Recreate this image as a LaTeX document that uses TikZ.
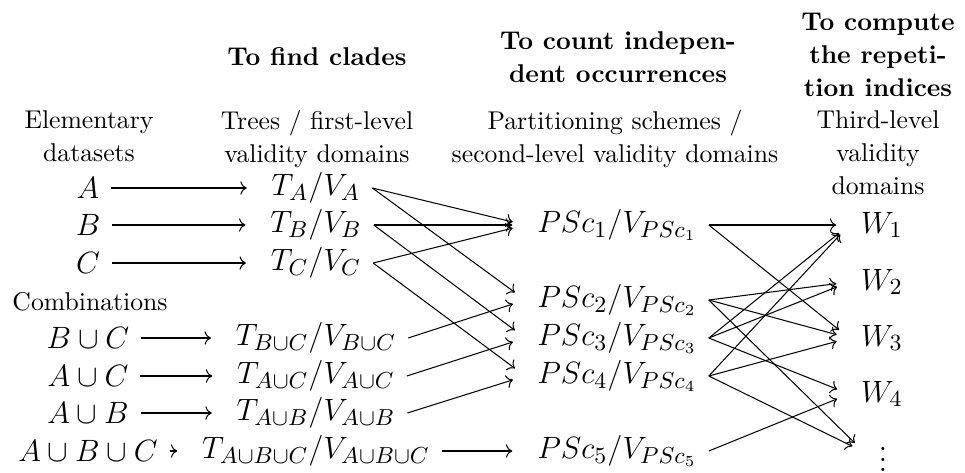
\documentclass[tikz,border=0pt]{standalone}
\usetikzlibrary{arrows.meta}
\begin{document}
\begin{tikzpicture}[x=0.3891pt,y=-0.3891pt,
  mth/.style={font=\fontsize{12.5}{15}\selectfont, inner xsep=4.5pt, inner ysep=3pt},
  lbl/.style={font=\fontsize{10}{12.8}\selectfont, align=center, inner sep=0pt},
  hdr/.style={font=\fontsize{10}{12.8}\selectfont\bfseries, align=center, inner sep=0pt},
  arr/.style={-{Computer Modern Rightarrow}, shorten >=5pt, line width=0.4pt}]
\useasboundingbox (0,0) rectangle (965,472);

% headers
\node[hdr] (h2) at (317,57) {To find clades};
\node[hdr] (h3) at (618,57) {To count indepen-\\dent occurrences};
\node[hdr] (h4) at (878,55) {To compute\\the repeti-\\tion indices};

\node[lbl, anchor=north] (s1) at (89,110) {Elementary\\datasets};
\node[lbl, anchor=north] (s2) at (317,110) {Trees / first-level\\validity domains};
\node[lbl, anchor=north] (s3) at (615,110) {Partitioning schemes /\\second-level validity domains};
\node[lbl, anchor=north] (s4) at (878,110) {Third-level\\validity\\domains};

% column 1
\node[mth] (A) at (88,188) {$A$};
\node[mth] (B) at (88,225) {$B$};
\node[mth] (C) at (88,263) {$C$};
\node[lbl] (comb) at (90,302) {Combinations};
\node[mth] (BC) at (88,338) {$B\cup C$};
\node[mth] (AC) at (88,376) {$A\cup C$};
\node[mth] (AB) at (88,413) {$A\cup B$};
\node[mth] (ABC) at (88,451) {$A\cup B\cup C$};

% column 2
\node[mth] (TA) at (316,188) {$T_A/V_A$};
\node[mth] (TB) at (316,225) {$T_B/V_B$};
\node[mth] (TC) at (316,263) {$T_C/V_C$};
\node[mth] (TBC) at (316,338) {$T_{B\cup C}/V_{B\cup C}$};
\node[mth] (TAC) at (316,376) {$T_{A\cup C}/V_{A\cup C}$};
\node[mth] (TAB) at (316,413) {$T_{A\cup B}/V_{A\cup B}$};
\node[mth] (TABC) at (316,451) {$T_{A\cup B\cup C}/V_{A\cup B\cup C}$};

% column 3
\node[mth] (P1) at (617,225) {$PSc_1/V_{PSc_1}$};
\node[mth] (P2) at (617,300) {$PSc_2/V_{PSc_2}$};
\node[mth] (P3) at (617,338) {$PSc_3/V_{PSc_3}$};
\node[mth] (P4) at (617,376) {$PSc_4/V_{PSc_4}$};
\node[mth] (P5) at (617,451) {$PSc_5/V_{PSc_5}$};

% column 4
\node[mth] (W1) at (882,225) {$W_1$};
\node[mth] (W2) at (882,282) {$W_2$};
\node[mth] (W3) at (882,338) {$W_3$};
\node[mth] (W4) at (882,394) {$W_4$};
\node[mth, inner xsep=5.5pt] (Wd) at (883,452) {$\vdots$};

% arrows col1 -> col2
\foreach \s/\t in {A/TA,B/TB,C/TC,BC/TBC,AC/TAC,AB/TAB,ABC/TABC}
  \draw[arr] (\s.east) -- (\t.west);

% arrows col2 -> col3
\foreach \s/\t in {TA/P1,TA/P2,TB/P1,TB/P3,TC/P1,TC/P4,TBC/P2,TAC/P3,TAB/P4,TABC/P5}
  \draw[arr] (\s.east) -- (\t.west);

% arrows col3 -> col4
\foreach \s/\t in {P1/W1,P1/W3,P2/W2,P2/W3,P2/Wd,P3/W1,P3/W2,P3/W4,P4/W1,P4/W3,P4/Wd,P5/W4}
  \draw[arr] (\s.east) -- (\t.west);
\end{tikzpicture}
\end{document}
